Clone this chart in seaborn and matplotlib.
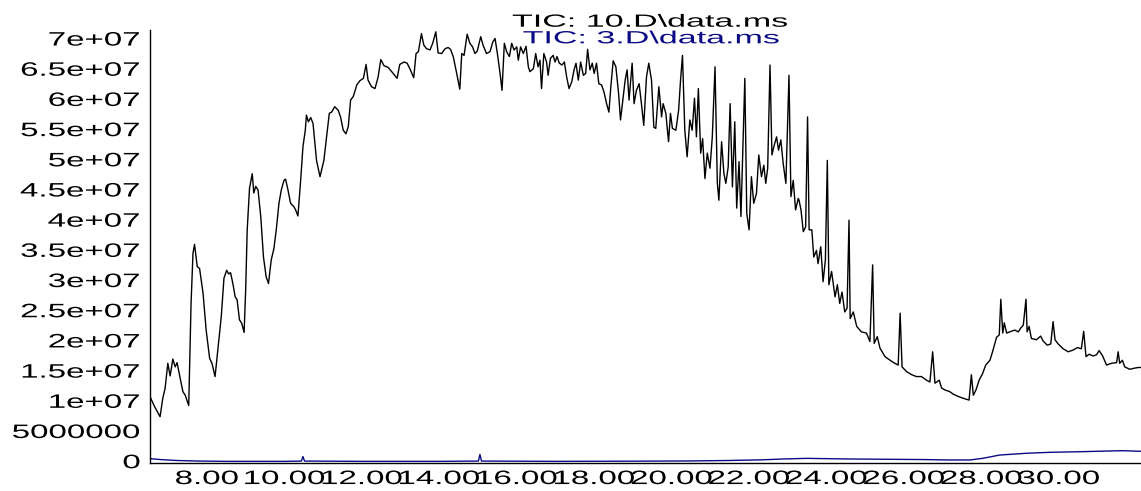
import numpy as np
import pandas as pd
import matplotlib
matplotlib.use("Agg")
import matplotlib.pyplot as plt
import seaborn as sns
from matplotlib.patheffects import AbstractPathEffect
from matplotlib.transforms import Affine2D

# ---- TIC: 10.D\data.ms (retention time in min, abundance in millions of counts)
rt_10 = [
    6.52, 6.65, 6.79, 6.86, 6.92, 6.99, 7.05, 7.12, 7.18, 7.23, 7.30, 7.38, 7.44, 7.53,
    7.59, 7.64, 7.68, 7.75, 7.81, 7.90, 7.98, 8.07, 8.13, 8.21, 8.30, 8.37, 8.44, 8.51,
    8.56, 8.61, 8.67, 8.73, 8.78, 8.84, 8.90, 8.96, 9.00, 9.04, 9.10, 9.17, 9.21, 9.26,
    9.32, 9.39, 9.46, 9.53, 9.59, 9.66, 9.73, 9.79, 9.86, 9.92, 9.99, 10.03, 10.09, 10.16,
    10.25, 10.29, 10.35, 10.42, 10.48, 10.54, 10.57, 10.62, 10.68, 10.74, 10.83, 10.92,
    11.02, 11.09, 11.16, 11.22, 11.30, 11.39, 11.45, 11.52, 11.59, 11.65, 11.71, 11.78,
    11.87, 11.95, 12.04, 12.11, 12.16, 12.25, 12.34, 12.42, 12.49, 12.57, 12.68, 12.81,
    12.91, 12.98, 13.09, 13.17, 13.24, 13.34, 13.40, 13.46, 13.54, 13.60, 13.67, 13.76,
    13.83, 13.91, 13.97, 14.06, 14.15, 14.23, 14.29, 14.36, 14.45, 14.53, 14.58, 14.64,
    14.72, 14.79, 14.86, 14.92, 14.98, 15.07, 15.13, 15.22, 15.31, 15.38, 15.44, 15.50,
    15.57, 15.62, 15.68, 15.74, 15.81, 15.87, 15.93, 16.00, 16.04, 16.10, 16.17, 16.24,
    16.30, 16.34, 16.43, 16.49, 16.55, 16.60, 16.64, 16.70, 16.77, 16.81, 16.87, 16.94,
    16.99, 17.04, 17.10, 17.17, 17.23, 17.29, 17.35, 17.42, 17.48, 17.53, 17.59, 17.65,
    17.72, 17.78, 17.83, 17.89, 17.95, 18.00, 18.06, 18.12, 18.19, 18.25, 18.32, 18.38,
    18.43, 18.49, 18.56, 18.63, 18.68, 18.75, 18.80, 18.85, 18.90, 18.98, 19.03, 19.09,
    19.16, 19.22, 19.28, 19.35, 19.41, 19.48, 19.54, 19.59, 19.67, 19.74, 19.78, 19.85,
    19.92, 19.97, 20.02, 20.11, 20.18, 20.23, 20.28, 20.34, 20.40, 20.47, 20.53, 20.59,
    20.64, 20.69, 20.75, 20.80, 20.86, 20.92, 20.99, 21.05, 21.12, 21.18, 21.22, 21.29,
    21.35, 21.40, 21.46, 21.51, 21.57, 21.63, 21.68, 21.74, 21.79, 21.89, 21.94, 22.00,
    22.06, 22.12, 22.19, 22.25, 22.32, 22.38, 22.43, 22.48, 22.54, 22.59, 22.64, 22.71,
    22.76, 22.82, 22.88, 22.95, 23.03, 23.08, 23.14, 23.20, 23.27, 23.29, 23.34, 23.40,
    23.46, 23.51, 23.55, 23.62, 23.67, 23.74, 23.78, 23.85, 23.91, 23.97, 24.02, 24.06,
    24.13, 24.22, 24.28, 24.34, 24.40, 24.47, 24.53, 24.58, 24.61, 24.69, 24.78, 24.90,
    25.03, 25.12, 25.19, 25.23, 25.31, 25.38, 25.51, 25.64, 25.76, 25.85, 25.90, 25.95,
    26.07, 26.20, 26.32, 26.45, 26.58, 26.67, 26.74, 26.80, 26.91, 26.97, 27.05, 27.18,
    27.27, 27.40, 27.53, 27.68, 27.74, 27.79, 27.86, 27.94, 28.03, 28.11, 28.22, 28.30,
    28.39, 28.46, 28.50, 28.55, 28.59, 28.65, 28.73, 28.86, 28.95, 29.01, 29.08, 29.15,
    29.18, 29.23, 29.29, 29.42, 29.53, 29.59, 29.70, 29.79, 29.85, 29.90, 29.98, 30.11,
    30.24, 30.37, 30.48, 30.58, 30.64, 30.70, 30.78, 30.88, 30.97, 31.04, 31.13, 31.23,
    31.36, 31.49, 31.53, 31.57, 31.64, 31.70, 31.83, 31.96, 32.05, 32.12,
]
tic_10 = [
    10.9, 9.1, 7.45, 10.5, 12.15, 16.3, 14.2, 17.0, 15.7, 16.4, 14.1, 11.6, 11.0, 9.3,
    26.2, 34.5, 36.0, 32.3, 32.0, 27.9, 21.8, 17.1, 16.3, 14.1, 19.6, 24.0, 30.4, 31.7,
    31.1, 31.3, 29.5, 27.3, 26.8, 23.5, 22.9, 21.4, 28.4, 38.4, 45.3, 47.7, 44.5, 45.6,
    45.0, 40.6, 33.9, 30.6, 29.5, 33.4, 35.3, 38.4, 42.8, 45.0, 46.6, 46.8, 45.1, 42.8,
    42.2, 41.7, 40.7, 46.6, 52.2, 54.9, 57.4, 56.3, 57.0, 56.0, 49.9, 47.2,
    49.9, 53.8, 57.7, 57.9, 58.8, 58.2, 57.1, 54.9, 54.3, 55.5, 59.9, 60.5,
    62.4, 63.1, 63.5, 65.8, 63.2, 62.1, 61.8, 63.7, 66.6, 65.6, 65.3, 64.3,
    63.5, 65.8, 66.2, 66.0, 65.1, 63.6, 67.6, 67.9, 70.9, 69.0, 68.4, 68.2,
    69.3, 71.2, 67.7, 67.6, 68.4, 68.6, 68.3, 67.1, 64.3, 61.7, 67.6, 67.3,
    70.8, 69.3, 68.7, 67.6, 68.0, 70.4, 69.0, 67.6, 67.9, 69.5, 70.1, 67.6,
    64.3, 61.5, 69.3, 67.9, 67.1, 69.3, 68.2, 68.7, 66.5, 68.7, 67.6, 68.8,
    65.4, 64.6, 65.1, 67.6, 65.4, 66.5, 61.8, 67.6, 66.2, 64.0, 66.8, 67.3,
    66.2, 67.1, 66.0, 65.7, 66.2, 63.7, 61.8, 62.9, 64.9, 66.0, 63.2, 66.2,
    64.0, 64.3, 68.3, 64.9, 66.0, 64.3, 66.0, 62.6, 62.4, 61.3, 59.3, 57.9,
    62.1, 66.4, 65.4, 61.0, 56.6, 60.4, 63.2, 64.9, 59.9, 66.0, 59.3, 61.5,
    62.6, 59.3, 55.7, 63.7, 66.0, 63.2, 55.4, 55.2, 62.1, 57.1, 59.3, 57.7,
    53.0, 57.7, 55.2, 54.9, 58.2, 63.2, 67.3, 54.9, 50.5, 56.6, 54.9, 60.2,
    53.8, 61.8, 51.1, 53.5, 46.9, 51.1, 48.6, 53.8, 65.4, 46.1, 43.3, 53.0,
    47.7, 46.1, 48.8, 59.3, 45.5, 56.3, 42.0, 49.7, 40.6, 63.5, 41.1, 38.4,
    47.2, 42.8, 44.4, 50.8, 47.2, 49.1, 46.1, 48.6, 65.7, 50.8, 52.2, 53.8,
    51.6, 53.3, 49.4, 46.1, 64.0, 43.9, 46.6, 41.7, 43.6, 43.3, 41.7, 38.1,
    38.9, 57.1, 38.4, 38.4, 33.9, 35.0, 32.8, 35.6, 29.8, 33.4, 49.9, 29.3,
    31.5, 27.3, 29.3, 26.2, 28.1, 24.8, 25.4, 40.0, 23.7, 24.8, 22.4, 21.5,
    21.3, 19.9, 32.6, 19.6, 20.7, 18.8, 17.4, 16.8, 16.3, 16.0, 24.6, 15.7,
    14.9, 14.4, 14.1, 14.1, 13.5, 13.2, 18.2, 13.0, 13.5, 12.2, 11.9, 11.6,
    11.2, 10.8, 10.5, 10.2, 14.4, 11.0, 11.9, 13.5, 14.6, 16.0, 16.8, 18.5,
    20.6, 21.0, 26.9, 21.3, 23.0, 21.3, 21.5, 21.8, 21.5, 22.1, 22.6, 26.9,
    21.5, 22.4, 20.4, 20.2, 20.8, 20.0, 19.3, 19.5, 23.2, 20.2, 19.5, 18.7,
    18.2, 18.5, 18.9, 18.7, 21.6, 17.4, 17.8, 17.5, 17.7, 18.4, 17.5, 16.0,
    16.3, 16.4, 18.2, 16.3, 16.8, 15.7, 15.3, 15.5, 15.6, 15.6,
]

# ---- TIC: 3.D\data.ms
rt_3 = [6.53, 6.80, 7.20, 7.80, 8.50, 10.00, 10.44, 10.48, 10.52, 12.00, 14.00,
        15.01, 15.05, 15.09, 17.00, 19.00, 20.50, 21.50, 22.30, 22.90, 23.50, 24.50,
        25.50, 26.50, 27.18, 27.70, 28.04, 28.47, 29.16, 29.77, 30.62, 31.62, 32.12]
tic_3 = [0.50, 0.35, 0.20, 0.10, 0.05, 0.05, 0.10, 0.85, 0.10, 0.05, 0.05,
         0.10, 1.20, 0.10, 0.05, 0.08, 0.12, 0.20, 0.30, 0.45, 0.55, 0.45,
         0.40, 0.35, 0.28, 0.28, 0.56, 1.10, 1.39, 1.55, 1.66, 1.82, 1.72]

# ---- axis ticks and labels
x_major = [8, 10, 12, 14, 16, 18, 20, 22, 24, 26, 28, 30]
x_labels = ["8.00", "10.00", "12.00", "14.00", "16.00", "18.00", "20.00",
            "22.00", "24.00", "26.00", "28.00", "30.00"]
y_major = [0, 5e6, 1e7, 1.5e7, 2e7, 2.5e7, 3e7, 3.5e7, 4e7, 4.5e7, 5e7, 5.5e7, 6e7, 6.5e7, 7e7]
y_labels = ["0", "5000000", "1e+07", "1.5e+07", "2e+07", "2.5e+07", "3e+07", "3.5e+07",
            "4e+07", "4.5e+07", "5e+07", "5.5e+07", "6e+07", "6.5e+07", "7e+07"]
titles = ["TIC: 10.D\\data.ms", "TIC: 3.D\\data.ms"]
NAVY = "#0a0a85"


class WideText(AbstractPathEffect):
    """Draw text glyphs horizontally stretched about an anchor edge."""

    def __init__(self, sx, anchor="center"):
        super().__init__()
        self.sx = sx
        self.anchor = anchor

    def draw_path(self, renderer, gc, tpath, affine, rgbFace=None):
        ext = tpath.get_extents()
        if self.anchor == "right":
            x0 = ext.x1
        elif self.anchor == "left":
            x0 = ext.x0
        else:
            x0 = 0.5 * (ext.x0 + ext.x1)
        stretch = Affine2D().translate(-x0, 0).scale(self.sx, 1.0).translate(x0, 0)
        renderer.draw_path(gc, tpath, stretch + affine, rgbFace)


sns.set_style("white")
plt.rcParams["font.family"] = ["Liberation Sans", "DejaVu Sans"]

W, H = 1141, 491
fig = plt.figure(figsize=(W / 100, H / 100), dpi=100)
ax = fig.add_axes([150 / W, (H - 463) / H, (W - 150) / W, (463 - 30) / H])

df10 = pd.DataFrame({"rt": rt_10, "tic": np.array(tic_10) * 1e6})
df3 = pd.DataFrame({"rt": rt_3, "tic": np.array(tic_3) * 1e6})
sns.lineplot(data=df3, x="rt", y="tic", ax=ax, color=NAVY, lw=1.0,
             estimator=None, sort=False)
sns.lineplot(data=df10, x="rt", y="tic", ax=ax, color="black", lw=1.0,
             estimator=None, sort=False)

ax.set_xlim(6.53, 32.12)
ax.set_ylim(-0.22e6, 71.5e6)
ax.set_xlabel("")
ax.set_ylabel("")

for side in ("top", "right"):
    ax.spines[side].set_visible(False)
for side in ("left", "bottom"):
    ax.spines[side].set_color("black")
    ax.spines[side].set_linewidth(1.0)

ax.set_xticks(x_major)
ax.set_xticklabels(x_labels)
minor_x = [v for v in np.round(np.arange(6.8, 32.05, 0.4), 2) if v not in x_major]
ax.set_xticks(minor_x, minor=True)
ax.set_yticks(y_major)
ax.set_yticklabels(y_labels)
ax.set_yticks(np.arange(0, 71e6, 1e6), minor=True)

ax.tick_params(axis="x", which="major", direction="out", length=5.0, width=0.9,
               color="black", labelsize=14, pad=0.8, labelcolor="black")
ax.tick_params(axis="x", which="minor", direction="out", length=3.5, width=0.9,
               color="black")
ax.tick_params(axis="y", which="major", direction="out", length=3.0, width=0.9,
               color="black", labelsize=14, pad=4.0, labelcolor="black")
ax.tick_params(axis="y", which="minor", direction="out", length=1.8, width=0.8,
               color="black")
ax.grid(False)

for lbl in ax.get_xticklabels():
    lbl.set_path_effects([WideText(1.7, "center")])
for lbl in ax.get_yticklabels():
    lbl.set_path_effects([WideText(1.7, "right")])

t1 = fig.text(650 / W, 1 - 26.7 / H, titles[0], ha="center", va="baseline",
              fontsize=12.7, color="black")
t2 = fig.text(651 / W, 1 - 43.3 / H, titles[1], ha="center", va="baseline",
              fontsize=12.7, color=NAVY)
t1.set_path_effects([WideText(1.93, "center")])
t2.set_path_effects([WideText(1.93, "center")])

fig.savefig("out.png", dpi=100, facecolor="white")
